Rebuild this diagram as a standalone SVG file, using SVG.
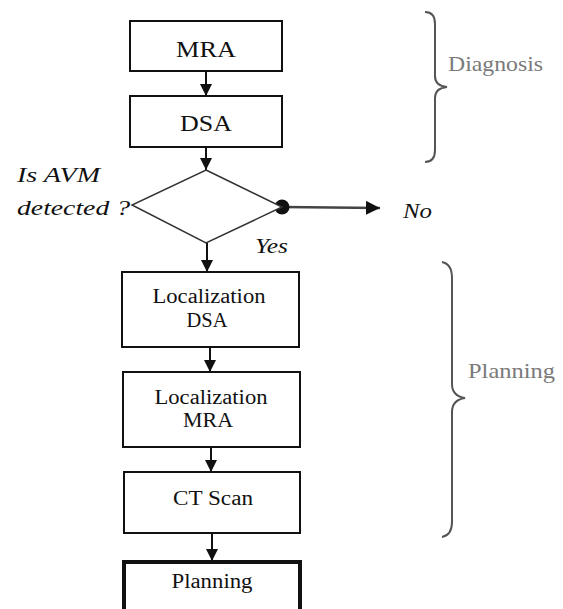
<svg xmlns="http://www.w3.org/2000/svg" width="563" height="609" viewBox="0 0 563 609" font-family="'Liberation Serif', 'DejaVu Serif', serif">
<defs>
<style>
.box{fill:#fff;stroke:#111;stroke-width:2}
.thick{fill:#fff;stroke:#111;stroke-width:4}
.t{fill:#111;text-anchor:middle}
.it{font-style:italic;fill:#111}
.g{fill:#7a7a7a}
.ln{stroke:#111;stroke-width:2;fill:none}
.brace{fill:none;stroke:#555;stroke-width:2}
</style>
<marker id="ah" viewBox="0 0 10 10" refX="10" refY="5" markerWidth="12" markerHeight="12" markerUnits="userSpaceOnUse" orient="auto">
<path d="M0,0 L10,5 L0,10 Z" fill="#111"/>
</marker>
<marker id="ah2" viewBox="0 0 10 10" refX="10" refY="5" markerWidth="14" markerHeight="14" markerUnits="userSpaceOnUse" orient="auto">
<path d="M0,0 L10,5 L0,10 Z" fill="#111"/>
</marker>
</defs>
<rect width="563" height="609" fill="#fff"/>
<g id="connectors">
<line class="ln" x1="206" y1="71" x2="206" y2="96" marker-end="url(#ah)"/>
<line class="ln" x1="206" y1="147" x2="206" y2="170" marker-end="url(#ah)"/>
<line class="ln" x1="207" y1="243" x2="207" y2="272" marker-end="url(#ah)"/>
<line class="ln" x1="210" y1="347" x2="210" y2="372" marker-end="url(#ah)"/>
<line class="ln" x1="211" y1="447" x2="211" y2="472" marker-end="url(#ah)"/>
<line class="ln" x1="212" y1="533" x2="212" y2="561" marker-end="url(#ah)"/>
<line x1="282" y1="207" x2="380" y2="208" stroke="#444" stroke-width="2.5" marker-end="url(#ah2)"/>
<circle cx="282" cy="207" r="7.5" fill="#111"/>
</g>
<g id="mra">
<rect class="box" x="130" y="21" width="152" height="50"/>
<text class="t" x="206" y="57" font-size="23" textLength="60" lengthAdjust="spacingAndGlyphs">MRA</text>
</g>
<g id="dsa">
<rect class="box" x="130" y="96" width="152" height="51"/>
<text class="t" x="206" y="131" font-size="23" textLength="52" lengthAdjust="spacingAndGlyphs">DSA</text>
</g>
<g id="decision">
<polygon points="206,170 282,207 206,243 132,205" fill="#fff" stroke="#333" stroke-width="1.5"/>
<text class="it" x="17" y="182" font-size="20" textLength="83" lengthAdjust="spacingAndGlyphs">Is AVM</text>
<text class="it" x="17" y="215" font-size="20" textLength="113" lengthAdjust="spacingAndGlyphs">detected ?</text>
<text class="it" x="255" y="253" font-size="20" textLength="33" lengthAdjust="spacingAndGlyphs">Yes</text>
</g>
<g id="no">
<text class="it" x="403" y="218" font-size="20" textLength="29" lengthAdjust="spacingAndGlyphs">No</text>
</g>
<g id="loc-dsa">
<rect class="box" x="122" y="272" width="177" height="75"/>
<text class="t" x="209" y="303" font-size="20" textLength="113" lengthAdjust="spacingAndGlyphs">Localization</text>
<text class="t" x="207" y="327" font-size="20" textLength="41" lengthAdjust="spacingAndGlyphs">DSA</text>
</g>
<g id="loc-mra">
<rect class="box" x="123" y="372" width="177" height="75"/>
<text class="t" x="211" y="404" font-size="20" textLength="113" lengthAdjust="spacingAndGlyphs">Localization</text>
<text class="t" x="208" y="427" font-size="20" textLength="50" lengthAdjust="spacingAndGlyphs">MRA</text>
</g>
<g id="ct-scan">
<rect class="box" x="124" y="472" width="176" height="61"/>
<text class="t" x="213" y="505" font-size="20" textLength="80" lengthAdjust="spacingAndGlyphs">CT Scan</text>
</g>
<g id="planning">
<rect class="thick" x="124" y="562" width="176" height="60"/>
<text class="t" x="212" y="588" font-size="20" textLength="81" lengthAdjust="spacingAndGlyphs">Planning</text>
</g>
<g id="diagnosis-brace">
<path class="brace" d="M425,12 Q435,12 435,24 L435,76 Q435,86 447,87 Q435,88 435,98 L435,150 Q435,162 425,162"/>
<text class="g" x="448" y="71" font-size="22" textLength="95" lengthAdjust="spacingAndGlyphs">Diagnosis</text>
</g>
<g id="planning-brace">
<path class="brace" d="M442,262 Q452,264 452,278 L452,384 Q452,396 465,398 Q452,400 452,412 L452,522 Q452,535 442,537"/>
<text class="g" x="468" y="378" font-size="21" textLength="87" lengthAdjust="spacingAndGlyphs">Planning</text>
</g>
</svg>
